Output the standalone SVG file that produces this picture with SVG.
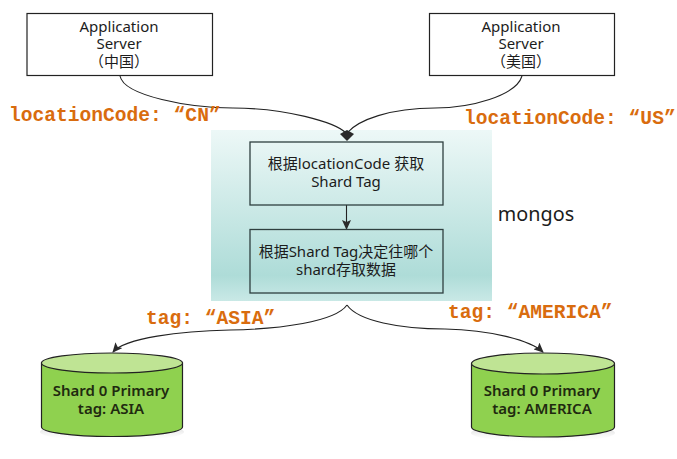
<svg xmlns="http://www.w3.org/2000/svg" width="677" height="459" viewBox="0 0 677 459">
<style>
text{font-family:"Noto Sans","Noto Sans CJK SC",sans-serif;text-anchor:middle;fill:#1c1c1c;font-size:15px}
.box{fill:#fff;stroke:#222;stroke-width:1.2}
.in{fill:none;stroke:#2f3f3f;stroke-width:1.3}
.lab{font-family:"Liberation Mono",monospace;font-weight:700;font-size:19.6px;fill:#d96c0e;text-anchor:start}
.db{font-weight:600;font-size:15px;fill:#1f2a10}
.c{fill:none;stroke:#222;stroke-width:1.1}
.side{fill:#8fd14f;stroke:#222;stroke-width:1.2}
.top{fill:#bfe494;stroke:#222;stroke-width:1.2}
</style>
<defs>
<linearGradient id="g" x1="0" y1="0" x2="0" y2="1">
<stop offset="0" stop-color="#edf8f7"/><stop offset="0.85" stop-color="#aedcd8"/><stop offset="1" stop-color="#c9e9e6"/>
</linearGradient>
<linearGradient id="sh" x1="0" y1="0" x2="0" y2="1"><stop offset="0" stop-color="#999" stop-opacity="0.6"/><stop offset="1" stop-color="#fff" stop-opacity="0"/></linearGradient>
<marker id="a" markerWidth="10" markerHeight="9" refX="9" refY="4.5" orient="auto" markerUnits="userSpaceOnUse"><path d="M0 0L10 4.5L0 9L2 4.5Z" fill="#2a2a2a"/></marker>
</defs>
<g id="panel"><rect x="211" y="130" width="281" height="171" fill="url(#g)"/></g>
<g id="connectors">
<path class="c" d="M120 76C124 96 190 108 233 108C285 108 335 122 346 133"/>
<path class="c" d="M522 76C516 96 470 108 435 108C390 108 358 120 347 133"/>
<path d="M340 134L347 130L354 134L347 141Z" fill="#2a2a2a"/>
<path class="c" d="M346.500 205V229" stroke-width="1.3" marker-end="url(#a)"/>
<path class="c" d="M347 305C335 322 280 329 230 330C180 331 125 338 113 352" marker-end="url(#a)"/>
<path class="c" d="M347 305C358 321 400 329 445 329C490 330 530 340 543 352" marker-end="url(#a)"/>
</g>
<g id="app-cn"><rect class="box" x="27" y="13.500" width="185.500" height="62"/>
<text><tspan x="119" y="32">Application</tspan><tspan x="119" y="49">Server</tspan><tspan x="119" y="67">（中国）</tspan></text></g>
<g id="app-us"><rect class="box" x="429.500" y="13.500" width="185" height="62"/>
<text><tspan x="521" y="32">Application</tspan><tspan x="521" y="49">Server</tspan><tspan x="521" y="67">（美国）</tspan></text></g>
<g id="step1"><rect class="in" x="250" y="142" width="193" height="63"/>
<text><tspan x="346" y="169">根据locationCode 获取</tspan><tspan x="346" y="187">Shard Tag</tspan></text></g>
<g id="step2"><rect class="in" x="250" y="229.500" width="193" height="63.500"/>
<text><tspan x="346" y="257">根据Shard Tag决定往哪个</tspan><tspan x="346" y="275">shard存取数据</tspan></text></g>
<g id="mongos"><text x="536" y="221" style="font-size:19.800px">mongos</text></g>
<g id="labels">
<text class="lab" x="9" y="121">locationCode: “CN”</text>
<text class="lab" x="464" y="124">locationCode: “US”</text>
<text class="lab" x="146" y="324">tag: “ASIA”</text>
<text class="lab" x="448" y="318">tag: “AMERICA”</text>
</g>
<g id="shard-asia">
<ellipse cx="112" cy="432" rx="72" ry="9" fill="url(#sh)"/>
<path class="side" d="M41.500 363V427C41.500 432 70 436.500 112 436.500C154 436.500 182.500 432 182.500 427V363Z"/>
<ellipse class="top" cx="112" cy="363" rx="70.500" ry="10"/>
<text class="db"><tspan x="111" y="396">Shard 0 Primary</tspan><tspan x="111" y="414">tag: ASIA</tspan></text></g>
<g id="shard-america">
<ellipse cx="543" cy="433" rx="72" ry="9" fill="url(#sh)"/>
<path class="side" d="M471.500 364V427C471.500 432 500 437 543 437C586 437 614.500 432 614.500 427V364Z"/>
<ellipse class="top" cx="543" cy="363.500" rx="71.500" ry="10.500"/>
<text class="db"><tspan x="542" y="396">Shard 0 Primary</tspan><tspan x="542" y="414">tag: AMERICA</tspan></text></g>
</svg>
